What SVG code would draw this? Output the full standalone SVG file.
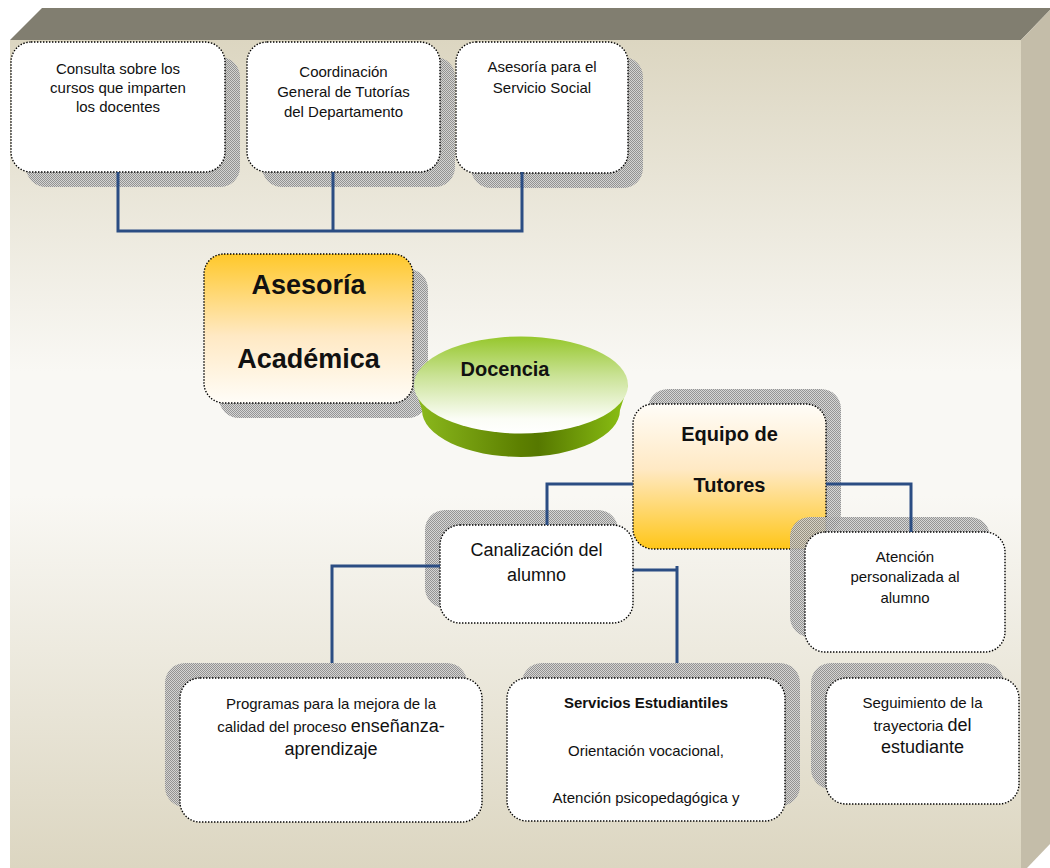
<svg xmlns="http://www.w3.org/2000/svg" width="1050" height="868" viewBox="0 0 1050 868">
<defs>
<style>
.box{fill:#fff;stroke:#000;stroke-width:1.4;stroke-dasharray:1.4 1.6}
.sh{fill:url(#dots);opacity:0.9}
.t{font-family:"Liberation Sans",Arial,sans-serif;font-size:15px;fill:#111;text-anchor:middle}
.b{font-weight:bold}
.big{font-size:18px}
.conn{fill:none;stroke:#2b4d83;stroke-width:3}
</style>
<pattern id="dots" width="2" height="2" patternUnits="userSpaceOnUse">
<rect width="2" height="2" fill="#d2d2d2"/>
<rect width="1" height="1" fill="#8a8a8a"/>
<rect x="1" y="1" width="1" height="1" fill="#8a8a8a"/>
</pattern>
<linearGradient id="front" x1="0" y1="0" x2="0" y2="1">
<stop offset="0" stop-color="#dcd6c1"/>
<stop offset="0.4" stop-color="#f9f8f4"/>
<stop offset="0.55" stop-color="#f9f8f4"/>
<stop offset="1" stop-color="#dcd6c1"/>
</linearGradient>
<linearGradient id="orDown" x1="0" y1="0" x2="0" y2="1">
<stop offset="0" stop-color="#ffc82a"/>
<stop offset="0.55" stop-color="#ffe9c4"/>
<stop offset="1" stop-color="#fffdf8"/>
</linearGradient>
<linearGradient id="orUp" x1="0" y1="0" x2="0" y2="1">
<stop offset="0" stop-color="#fffdf8"/>
<stop offset="0.45" stop-color="#ffe9c4"/>
<stop offset="1" stop-color="#ffc618"/>
</linearGradient>
<linearGradient id="cylTop" x1="0" y1="0" x2="0" y2="1">
<stop offset="0" stop-color="#96c72c"/>
<stop offset="0.4" stop-color="#c9e294"/>
<stop offset="0.85" stop-color="#fbfdf6"/>
<stop offset="1" stop-color="#ffffff"/>
</linearGradient>
<linearGradient id="cylSide" x1="0" y1="0" x2="1" y2="0">
<stop offset="0" stop-color="#8dbb1e"/>
<stop offset="0.5" stop-color="#5c7f00"/>
<stop offset="0.58" stop-color="#567800"/>
<stop offset="1" stop-color="#8cc214"/>
</linearGradient>
</defs>

<!-- frame -->
<rect x="10" y="40" width="1011" height="828" fill="url(#front)"/>
<polygon points="10,40 42,8 1050,8 1050,10 1021,40" fill="#817e70"/>
<polygon points="1021,40 1050,10 1050,844 1027,868 1021,868" fill="#c4bda9"/>

<g id="n-consulta">
<rect class="sh" x="26" y="57" width="214" height="130" rx="20"/>
<rect class="box" x="11" y="42" width="214" height="130" rx="20"/>
<text class="t" x="118" y="74">Consulta sobre los</text>
<text class="t" x="118" y="93">cursos que imparten</text>
<text class="t" x="118" y="112">los docentes</text>
</g>

<g id="n-coordinacion">
<rect class="sh" x="262" y="57" width="193" height="130" rx="20"/>
<rect class="box" x="247" y="42" width="193" height="130" rx="20"/>
<text class="t" x="343.5" y="77">Coordinación</text>
<text class="t" x="343.5" y="97">General de Tutorías</text>
<text class="t" x="343.5" y="117">del Departamento</text>
</g>

<g id="n-servicio-social">
<rect class="sh" x="471" y="57" width="172" height="131" rx="20"/>
<rect class="box" x="456" y="42" width="172" height="131" rx="20"/>
<text class="t" x="542" y="72">Asesoría para el</text>
<text class="t" x="542" y="93">Servicio Social</text>
</g>

<g id="n-asesoria">
<rect class="sh" x="219" y="269" width="209" height="149" rx="20"/>
<rect class="box" x="204" y="254" width="209" height="149" rx="20" style="fill:url(#orDown)"/>
<text class="t b" x="308.5" y="294" style="font-size:27px">Asesoría</text>
<text class="t b" x="308.5" y="368" style="font-size:27px">Académica</text>
</g>

<g id="n-docencia">
<path d="M414,385 L422,410 A99,47 0 0 0 620,410 L628,385 Z" fill="url(#cylSide)"/>
<ellipse cx="521" cy="385" rx="107" ry="48.5" fill="url(#cylTop)"/>
<text class="t b" x="505" y="376" style="font-size:20px">Docencia</text>
</g>

<g id="n-equipo">
<rect class="sh" x="648" y="389" width="193" height="145" rx="20"/>
<rect class="box" x="633" y="404" width="193" height="145" rx="20" style="fill:url(#orUp)"/>
<text class="t b" x="729.5" y="441" style="font-size:20px">Equipo de</text>
<text class="t b" x="729.5" y="492" style="font-size:20px">Tutores</text>
</g>

<g id="n-canalizacion">
<rect class="sh" x="425" y="510" width="193" height="98" rx="20"/>
<rect class="box" x="440" y="525" width="193" height="98" rx="20"/>
<text class="t big" x="536.5" y="556">Canalización del</text>
<text class="t big" x="536.5" y="581">alumno</text>
</g>

<g id="n-atencion">
<rect class="sh" x="790" y="517" width="200" height="120" rx="20"/>
<rect class="box" x="805" y="532" width="200" height="120" rx="20"/>
<text class="t" x="905" y="562">Atención</text>
<text class="t" x="905" y="582">personalizada al</text>
<text class="t" x="905" y="603">alumno</text>
</g>

<g id="n-programas">
<rect class="sh" x="165" y="663" width="302" height="144" rx="20"/>
<rect class="box" x="180" y="678" width="302" height="144" rx="20"/>
<text class="t" x="331" y="709">Programas para la mejora de la</text>
<text class="t" x="331" y="732">calidad del proceso <tspan class="big">enseñanza-</tspan></text>
<text class="t big" x="331" y="755">aprendizaje</text>
</g>

<g id="n-servicios">
<rect class="sh" x="522" y="663" width="278" height="143" rx="20"/>
<rect class="box" x="507" y="678" width="278" height="143" rx="20"/>
<text class="t b" x="646" y="708">Servicios Estudiantiles</text>
<text class="t" x="646" y="756">Orientación vocacional,</text>
<text class="t" x="646" y="803">Atención psicopedagógica y</text>
</g>

<g id="n-seguimiento">
<rect class="sh" x="811" y="663" width="193" height="126" rx="20"/>
<rect class="box" x="826" y="678" width="193" height="126" rx="20"/>
<text class="t" x="922.5" y="708">Seguimiento de la</text>
<text class="t" x="922.5" y="731">trayectoria <tspan class="big">del</tspan></text>
<text class="t big" x="922.5" y="753">estudiante</text>
</g>

<g id="connectors">
<path class="conn" d="M118,172 V231 H522 V172"/>
<path class="conn" d="M333,172 V231"/>
<path class="conn" d="M633,484 H547 V525"/>
<path class="conn" d="M826,484 H911 V532"/>
<path class="conn" d="M440,566 H332 V663"/>
<path class="conn" d="M633,570 H677"/>
<path class="conn" d="M677,566 V663"/>
</g>
</svg>
